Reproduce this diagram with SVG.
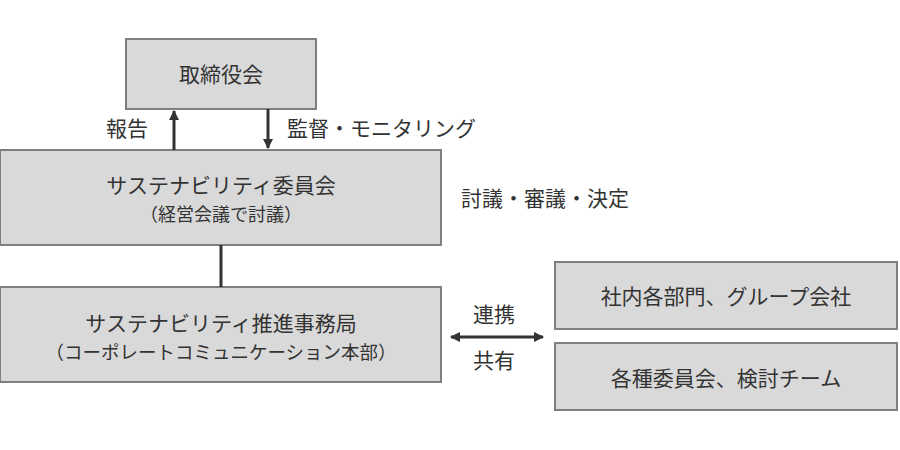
<svg xmlns="http://www.w3.org/2000/svg" width="900" height="450" viewBox="0 0 900 450">
<style>
.box{fill:#d9d9d9;stroke:#7f7f7f;stroke-width:2}
text{font-family:"Noto Sans CJK JP","Noto Sans",sans-serif;font-size:21px;fill:#333;text-anchor:middle}
.l{text-anchor:start}
.c{stroke:#333;stroke-width:3;fill:none}
</style>
<defs>
<marker id="ah" viewBox="0 0 10 10" refX="9" refY="5" markerWidth="3.5" markerHeight="3.5" orient="auto-start-reverse"><path d="M0,0L10,5L0,10z" fill="#333"/></marker>
</defs>
<rect width="900" height="450" fill="#fff"/>
<g id="board"><rect class="box" x="126" y="39" width="190" height="70"/><text x="221" y="82">取締役会</text></g>
<g id="committee"><rect class="box" x="0" y="150" width="441" height="95"/><text x="221" y="193">サステナビリティ委員会</text><text x="221" y="221" style="font-size:18px">（経営会議で討議）</text></g>
<g id="office"><rect class="box" x="0" y="287" width="441" height="95"/><text x="221" y="331">サステナビリティ推進事務局</text><text x="221" y="359" style="font-size:18.5px">（コーポレートコミュニケーション本部）</text></g>
<g id="depts"><rect class="box" x="555" y="262" width="342" height="67"/><text x="726" y="304">社内各部門、グループ会社</text></g>
<g id="teams"><rect class="box" x="555" y="343" width="342" height="67"/><text x="726" y="386">各種委員会、検討チーム</text></g>
<g id="connectors">
<line class="c" x1="174" y1="150" x2="174" y2="111" marker-end="url(#ah)"/>
<line class="c" x1="268" y1="109" x2="268" y2="148" marker-end="url(#ah)"/>
<line class="c" x1="221" y1="245" x2="221" y2="287"/>
<line class="c" x1="451" y1="337" x2="543" y2="337" marker-start="url(#ah)" marker-end="url(#ah)"/>
</g>
<g id="labels">
<text x="127" y="136">報告</text>
<text class="l" x="287" y="136">監督・モニタリング</text>
<text class="l" x="461" y="206">討議・審議・決定</text>
<text x="494" y="322">連携</text>
<text x="494" y="368">共有</text>
</g>
</svg>
